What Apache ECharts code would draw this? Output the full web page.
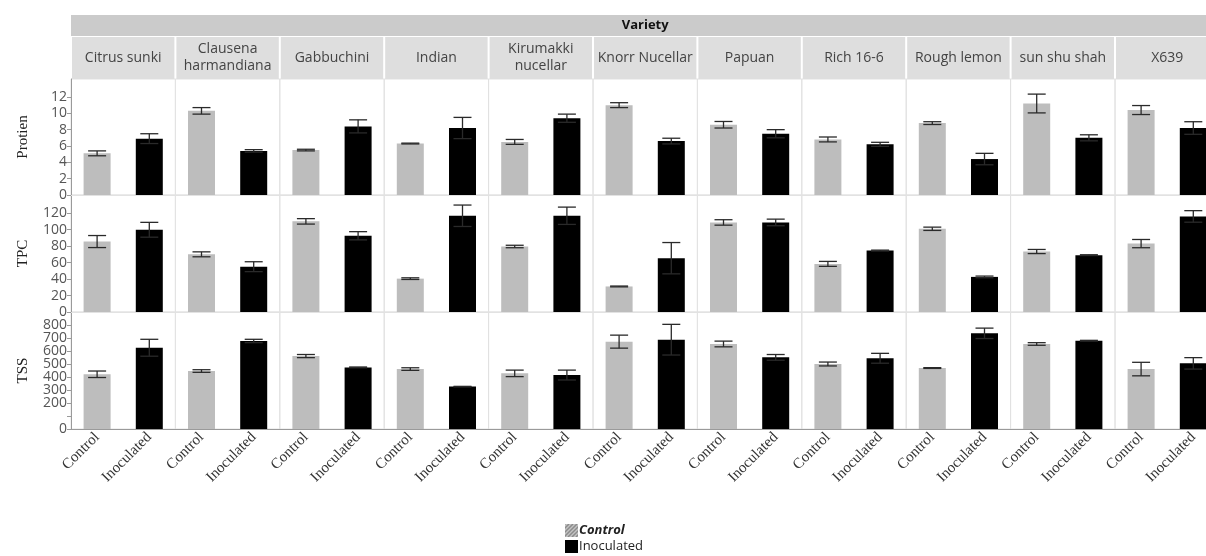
<!DOCTYPE html>
<html><head><meta charset="utf-8">
<script src="https://cdn.jsdelivr.net/npm/echarts@6/dist/echarts.min.js"></script>
<style>html,body{margin:0;padding:0;background:#fff;overflow:hidden}#c{width:1222px;height:556px}</style>
</head><body><div id="c"></div>
<script>
const varieties = ['Citrus sunki','Clausena\nharmandiana','Gabbuchini','Indian','Kirumakki\nnucellar','Knorr Nucellar','Papuan','Rich 16-6','Rough lemon','sun shu shah','X639'];
const treatments = ['Control','Inoculated'];
const measures = ['Protien','TPC','TSS'];
const protienControl = [5.1,10.3,5.5,6.3,6.5,11.0,8.6,6.8,8.8,11.2,10.4];
const protienControlErr = [0.3,0.4,0.1,0.05,0.3,0.3,0.4,0.3,0.17,1.15,0.55];
const protienInoculated = [6.9,5.4,8.4,8.2,9.4,6.6,7.5,6.2,4.4,7.0,8.2];
const protienInoculatedErr = [0.6,0.15,0.8,1.3,0.5,0.35,0.5,0.25,0.7,0.37,0.77];
const tpcControl = [85.5,70,110,40.5,79.5,31,108.7,58.4,101,73.4,83];
const tpcControlErr = [7.3,3,3.3,1,1.5,0.5,3.3,3,2,2.5,5];
const tpcInoculated = [99.8,55,92.5,116.8,116.8,65.3,108.7,74.6,42.6,69,116];
const tpcInoculatedErr = [9,6,5,13,10.5,19,4,0.5,1,0.5,7];
const tssControl = [421,446,561,461,428,672,654,500,469,654,461];
const tssControlErr = [25,10,12,10,25,50,22,15,3,10,52];
const tssInoculated = [625,677,474,326,415,687,551,544,736,679,505];
const tssInoculatedErr = [65,13,3,2,38,118,22,38,40,3,44];
const protienTicks = [0,2,4,6,8,10,12];
const tpcTicks = [0,20,40,60,80,100,120];
const tssTicks = [0,100,200,300,400,500,600,700,800];
const tssLabels = [0,200,300,400,500,600,700,800];

const rowData = [
  {c: protienControl, ce: protienControlErr, i: protienInoculated, ie: protienInoculatedErr, max: 14.2, interval: 2, ticks: protienTicks, labels: protienTicks},
  {c: tpcControl, ce: tpcControlErr, i: tpcInoculated, ie: tpcInoculatedErr, max: 142, interval: 20, ticks: tpcTicks, labels: tpcTicks},
  {c: tssControl, ce: tssControlErr, i: tssInoculated, ie: tssInoculatedErr, max: 900, interval: 100, ticks: tssTicks, labels: tssLabels}
];

const LEFT = 71, COLW = 104.4;
const rowTop = [79, 195, 312], rowH = [116, 117, 117];
const serif = '"Liberation Serif","DejaVu Serif",serif';
const sans = '"Open Sans","Noto Sans",sans-serif';

const grid = [], xAxis = [], yAxis = [], series = [];

function errRender(params, api) {
  const x = api.value(0), v = api.value(1), e = api.value(2);
  const t = api.coord([x, v + e]), b = api.coord([x, v - e]);
  const h = 9, st = {stroke: '#2a2a2a', lineWidth: 1.3};
  return {type: 'group', children: [
    {type: 'line', shape: {x1: t[0], y1: t[1], x2: b[0], y2: b[1]}, style: st},
    {type: 'line', shape: {x1: t[0] - h, y1: t[1], x2: t[0] + h, y2: t[1]}, style: st},
    {type: 'line', shape: {x1: b[0] - h, y1: b[1], x2: b[0] + h, y2: b[1]}, style: st}
  ]};
}

for (let r = 0; r < 3; r++) {
  const d = rowData[r];
  for (let c = 0; c < varieties.length; c++) {
    const g = r * varieties.length + c;
    grid.push({left: LEFT + c * COLW, top: rowTop[r], width: COLW, height: rowH[r], show: true, borderColor: '#e2e2e2', borderWidth: 1, containLabel: false});
    xAxis.push({type: 'category', gridIndex: g, data: treatments,
      axisTick: {show: false},
      axisLine: {show: true, lineStyle: {color: r === 2 ? '#9a9a9a' : '#e2e2e2', width: 1}},
      axisLabel: {show: r === 2, rotate: 45, interval: 0, margin: 6, fontFamily: serif, fontSize: 15, color: '#333'}
    });
    yAxis.push({type: 'value', gridIndex: g, min: 0, max: d.max, interval: d.interval,
      splitLine: {show: false},
      axisLine: {show: c === 0, lineStyle: {color: '#9a9a9a'}},
      axisTick: {show: c === 0, length: 4, lineStyle: {color: '#9a9a9a'}, customValues: d.ticks.concat([d.max])},
      axisLabel: {show: c === 0, margin: 4, fontFamily: sans, fontSize: 14, lineHeight: 11, color: '#555',
        customValues: d.labels.concat([d.max]),
        showMaxLabel: false, hideOverlap: false,
        formatter: v => v >= d.max ? '' : String(Math.round(v))},
      name: c === 0 ? measures[r] : '', nameLocation: 'middle', nameGap: 40, nameRotate: 90,
      nameTextStyle: {fontFamily: serif, fontSize: 15, color: '#222'}
    });
    series.push({type: 'bar', name: 'Control', xAxisIndex: g, yAxisIndex: g, barWidth: 27, barGap: '-100%',
      itemStyle: {color: '#bdbdbd'}, data: [d.c[c], '-'], animation: false});
    series.push({type: 'bar', name: 'Inoculated', xAxisIndex: g, yAxisIndex: g, barWidth: 27, barGap: '-100%',
      itemStyle: {color: '#000'}, data: ['-', d.i[c]], animation: false});
    series.push({type: 'custom', xAxisIndex: g, yAxisIndex: g, renderItem: errRender, z: 5, animation: false,
      encode: {x: 0, y: 1}, data: [[0, d.c[c], d.ce[c]], [1, d.i[c], d.ie[c]]]});
  }
}

// legend hatched icon
const cv = document.createElement('canvas'); cv.width = 26; cv.height = 26;
const cx = cv.getContext('2d');
cx.fillStyle = '#c4c4c4'; cx.fillRect(0, 0, 26, 26);
cx.strokeStyle = '#8c8c8c'; cx.lineWidth = 3;
for (let k = -26; k < 52; k += 8) { cx.beginPath(); cx.moveTo(k, 26); cx.lineTo(k + 26, 0); cx.stroke(); }
const hatch = 'image://' + cv.toDataURL();

const graphic = [];
graphic.push({type: 'rect', left: LEFT, top: 15, shape: {width: COLW * 11, height: 21}, style: {fill: '#cbcbcb'}, silent: true});
graphic.push({type: 'text', x: LEFT + COLW * 11 / 2, y: 25.5, style: {text: 'Variety', font: 'bold 13px ' + sans, fill: '#111', align: 'center', verticalAlign: 'middle'}});
for (let c = 0; c < varieties.length; c++) {
  graphic.push({type: 'rect', shape: {x: LEFT + c * COLW + 1, y: 37, width: COLW - 2, height: 42}, style: {fill: '#dedede'}, silent: true});
  graphic.push({type: 'text', x: LEFT + c * COLW + COLW / 2, y: 58, style: {text: varieties[c], font: '14px ' + sans, fill: '#444', align: 'center', verticalAlign: 'middle', lineHeight: 17}});
}

const chart = echarts.init(document.getElementById('c'), null, {renderer: 'canvas'});
chart.setOption({
  animation: false,
  grid, xAxis, yAxis, series, graphic,
  legend: {orient: 'vertical', left: 565, top: 524, padding: 0, itemWidth: 13, itemHeight: 13, itemGap: 3,
    textStyle: {fontFamily: sans, fontSize: 13, color: '#222', padding: [0, 0, 0, -4]},
    data: [
      {name: 'Control', icon: hatch, textStyle: {fontWeight: 'bold', fontStyle: 'italic'}},
      {name: 'Inoculated', icon: 'rect'}
    ]}
});
</script></body></html>
